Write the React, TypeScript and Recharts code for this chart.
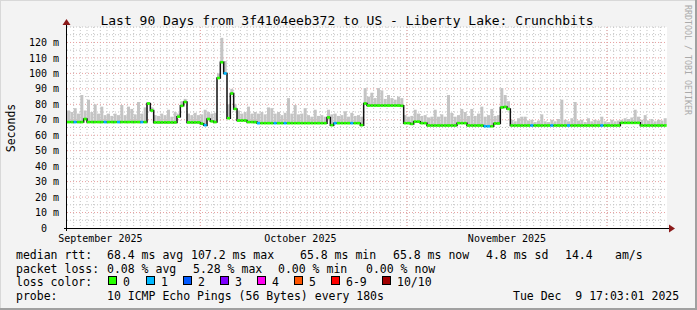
import React from "react";
import { ComposedChart, Bar, Line, XAxis, YAxis, CartesianGrid, Cell } from "recharts";

const MONO = "'DejaVu Sans Mono', monospace";
const BIN = 0.5; // days per bin

// median rtt per half-day bin (ms), Sep 11 -> Dec 9
const medianRtt = [
  68.5, 68.5, 68.5, 68.5, 68.5, 70.5, 68.5, 68.5, 68.5, 68.5,
  68.5, 68.5, 68.5, 68.5, 68.5, 68.5, 68.5, 68.5, 68.5, 68.5,
  68.5, 68.5, 68.5, 68.5, 80.5, 76, 68.3, 68.3, 68.3, 68.3,
  68.3, 68.3, 68.3, 72, 79, 81.5, 68.3, 68.3, 68.3, 68.3,
  67.5, 66.5, 70.5, 69, 68.5, 97, 107.2, 100, 71, 87,
  77, 69.5, 69.5, 69.5, 68.5, 68.5, 68.5, 67.8, 67.8, 67.8,
  67.8, 67.8, 67.8, 67.8, 67.8, 67.8, 67.8, 67.8, 67.8, 67.8,
  67.8, 67.8, 67.8, 67.8, 67.8, 67.8, 67.8, 67.8, 71.5, 66.5,
  67.8, 67.8, 67.8, 67.8, 67.8, 67.8, 67.8, 67.8, 66.5, 80.5,
  79.2, 79.2, 79.2, 79.2, 79.2, 79.2, 79.2, 79.2, 79.2, 79.2,
  79, 67.8, 67.8, 67.3, 68.8, 68.8, 67.8, 67.8, 66.3, 66.3,
  66.3, 66.3, 66.3, 66.3, 66.3, 66.3, 66.3, 67.8, 67.8, 67.8,
  66.3, 66.3, 66.3, 66.3, 66.3, 65.8, 65.8, 65.8, 67.6, 67.6,
  78, 78.3, 77, 66.3, 66.3, 66.3, 66.3, 66.3, 66.3, 66.3,
  66.3, 66.3, 66.3, 66.3, 66.3, 66.3, 66.3, 66.3, 66.3, 66.3,
  66.3, 66.3, 66.3, 66.3, 66.3, 66.3, 66.3, 66.3, 66.3, 66.3,
  66.3, 66.3, 66.3, 66.3, 66.3, 66.3, 68, 68, 68, 68,
  68, 68, 66.3, 66.3, 66.3, 66.3, 66.3, 66.3, 66.3, 66.3,
];

// top of the smoke (highest ping) per bin (ms)
const smokeTop = [
  76, 75, 77.5, 74, 86, 76, 83, 75, 80, 74,
  78.5, 73, 74, 72.5, 74, 73, 79.5, 73, 78.5, 77,
  73.5, 81.5, 74, 78, 81, 78, 73, 72.5, 74, 73,
  76.5, 72, 75, 74, 82, 83.5, 74, 73, 74.5, 73,
  73.5, 76.5, 75, 74, 74.5, 100, 123, 108, 80, 90,
  80, 76, 74, 75, 78.5, 74, 75, 74, 75, 73.5,
  78, 77.5, 74, 75, 73, 74.5, 84, 74, 79.5, 73.5,
  74, 77.5, 73, 72, 76.5, 72.5, 73, 72, 76.5, 73.5,
  74, 72.5, 73, 75.5, 72, 74.5, 72.5, 73, 72, 90.5,
  85, 87.5, 84, 90.5, 89, 83.5, 86, 84, 83, 85,
  84, 73, 72, 72.5, 76.5, 74, 72.5, 73, 71.5, 72,
  76.5, 72, 73.5, 72, 86, 74.5, 72, 73, 77, 75,
  72.5, 77, 72.5, 74, 78.5, 72, 73, 77, 72.5, 73,
  90.5, 86, 82, 70, 69, 71, 72, 72, 69.5, 70,
  68.5, 69.5, 73.5, 69, 68.5, 70, 69, 70.5, 83, 70,
  69, 71, 81.5, 69.5, 70, 68.5, 71, 69, 70, 69.5,
  72, 69, 68.5, 70, 69, 69.5, 70, 71, 70.5, 71.5,
  76.5, 72, 70, 73, 69.5, 70.5, 69, 70, 69.5, 71,
];

// bins where 1 of 10 pings was lost
const lossOneBins = [2, 11, 15, 22, 41, 47, 57, 62, 65, 80, 85, 125, 126, 139, 145, 150, 160];

const monthTicks = [5, 35, 66];
const monthLabels = ["September 2025", "October 2025", "November 2025"];
const monthStarts = [20, 51, 81];
const rttTicks = [0, 10, 20, 30, 40, 50, 60, 70, 80, 90, 100, 110, 120];
const minorRtt = [5, 15, 25, 35, 45, 55, 65, 75, 85, 95, 105, 115, 125, 130];
const dayLines = Array.from({ length: 89 }, (_, i) => i + 1);

const lossColors = ["#26ff00", "#00b8ff", "#0059ff", "#7e00ff", "#ff00f0", "#ff5500", "#ff0000", "#a10000"];
const lossLabels = ["0", "1", "2", "3", "4", "5", "6-9", "10/10"];

const LINE_HALF = 0.85;

const data = medianRtt.map((m, i) => ({
  t: i * BIN + BIN / 2,
  median: m,
  band: [m - LINE_HALF, m + LINE_HALF],
  smoke: [m, smokeTop[i]],
  loss: lossOneBins.includes(i) ? 1 : 0,
}));

const YTick = (props: any) => {
  const { x, y, payload } = props;
  const v = payload.value;
  return (
    <text x={v === 0 ? x - 12 : x} y={y} dy={3.6} textAnchor="end" fontFamily={MONO} fontSize={10} fill="#000">
      {v === 0 ? "0" : `${v} m`}
    </text>
  );
};

const MonthTick = (props: any) => {
  const { x, y, payload } = props;
  const idx = monthTicks.indexOf(payload.value);
  return (
    <text x={x} y={y} dy={13.6} textAnchor="middle" fontFamily={MONO} fontSize={10} fill="#000">
      {monthLabels[idx]}
    </text>
  );
};

const legendRows = [
  { y: 258.5, items: [[16, "median rtt:"], [107, "68.4 ms avg"], [191, "107.2 ms max"], [300, "65.8 ms min"], [393, "65.8 ms now"], [486, "4.8 ms sd"], [565, "14.4"], [615, "am/s"]] },
  { y: 272.5, items: [[16, "packet loss:"], [107, "0.08 % avg"], [193, "5.28 % max"], [278, "0.00 % min"], [366, "0.00 % now"]] },
  { y: 286, items: [[16, "loss color:"]] },
  { y: 300, items: [[16, "probe:"], [107, "10 ICMP Echo Pings (56 Bytes) every 180s"], [513, "Tue Dec  9 17:03:01 2025"]] },
] as { y: number; items: [number, string][] }[];

const lossBoxX = [108, 146, 183, 220, 257, 294, 331, 382];

export default function App() {
  return (
    <div style={{ position: "fixed", left: 0, top: 0, width: 697, height: 310, background: "#f3f3f3", overflow: "hidden" }}>
      <ComposedChart
        width={697}
        height={310}
        data={data}
        margin={{ top: 27, right: 30, bottom: 62, left: 7 }}
        barCategoryGap={0}
        barGap={0}
      >
        <CartesianGrid xAxisId="main" fill="#ffffff" stroke="#c4c4c4" strokeDasharray="1 2" horizontalValues={minorRtt} verticalValues={dayLines} />
        <CartesianGrid xAxisId="main" stroke="#e8a0a0" strokeDasharray="1 2" horizontalValues={rttTicks.slice(1)} verticalValues={monthStarts} />
        <XAxis
          xAxisId="main"
          type="number"
          dataKey="t"
          domain={[0, 90]}
          ticks={monthTicks}
          interval={0}
          tick={<MonthTick />}
          tickLine={false}
          axisLine={false}
          tickSize={0}
          tickMargin={0}
          height={20}
          allowDataOverflow
        />
        <XAxis xAxisId="smoke" type="number" dataKey="t" domain={[0, 90]} hide allowDataOverflow />
        <YAxis
          type="number"
          domain={[0, 130]}
          ticks={rttTicks}
          interval={0}
          width={60}
          tick={<YTick />}
          tickLine={false}
          axisLine={false}
          tickSize={0}
          tickMargin={8}
          allowDataOverflow
        />
        <Bar xAxisId="smoke" dataKey="smoke" fill="#c4c4c4" isAnimationActive={false} zIndex={100} />
        <Line
          xAxisId="main"
          type="step"
          dataKey="median"
          stroke="#111111"
          strokeWidth={1.5}
          dot={false}
          activeDot={false}
          isAnimationActive={false}
          zIndex={200}
        />
        <Bar xAxisId="main" dataKey="band" isAnimationActive={false}>
          {data.map((d, i) => (
            <Cell key={i} fill={lossColors[d.loss]} />
          ))}
        </Bar>
      </ComposedChart>

      <svg width={697} height={310} style={{ position: "absolute", left: 0, top: 0, pointerEvents: "none" }}>
        <rect x={0} y={0} width={697} height={1} fill="#d8d8d8" />
        <rect x={0} y={0} width={1} height={310} fill="#d8d8d8" />
        <rect x={695} y={0} width={2} height={310} fill="#a0a0a0" />
        <rect x={0} y={308} width={697} height={2} fill="#a0a0a0" />

        <text x={347} y={25} textAnchor="middle" fontFamily={MONO} fontSize={13} fill="#000">
          Last 90 Days from 3f4104eeb372 to US - Liberty Lake: Crunchbits
        </text>
        <text x={15} y={128} transform="rotate(-90 15 128)" textAnchor="middle" fontFamily={MONO} fontSize={11.5} fill="#000">
          Seconds
        </text>
        <text x={685} y={5} transform="rotate(90 685 5)" fontFamily={MONO} fontSize={8.3} fill="#aaaaaa">
          RRDTOOL / TOBI OETIKER
        </text>

        <line x1={64} y1={228.5} x2={670} y2={228.5} stroke="#000" strokeWidth={1} />
        <polygon points="669,224.5 675,228.5 669,232.5" fill="#8b1a1a" />
        <line x1={66.5} y1={231} x2={66.5} y2={24} stroke="#000" strokeWidth={1} />
        <polygon points="62.5,25 66.5,19 70.5,25" fill="#8b1a1a" />

        {legendRows.map((row, r) =>
          row.items.map(([x, s], k) => (
            <text key={`${r}-${k}`} x={x} y={row.y} fontFamily={MONO} fontSize={11.5} fill="#000" style={{ whiteSpace: "pre" }}>
              {s}
            </text>
          ))
        )}
        {lossColors.map((c, i) => (
          <g key={c}>
            <rect x={lossBoxX[i] + 0.5} y={276.5} width={8} height={8} fill={c} stroke="#000" strokeWidth={1} />
            <text x={lossBoxX[i] + 15} y={286} fontFamily={MONO} fontSize={11.5} fill="#000">
              {lossLabels[i]}
            </text>
          </g>
        ))}
      </svg>
    </div>
  );
}
